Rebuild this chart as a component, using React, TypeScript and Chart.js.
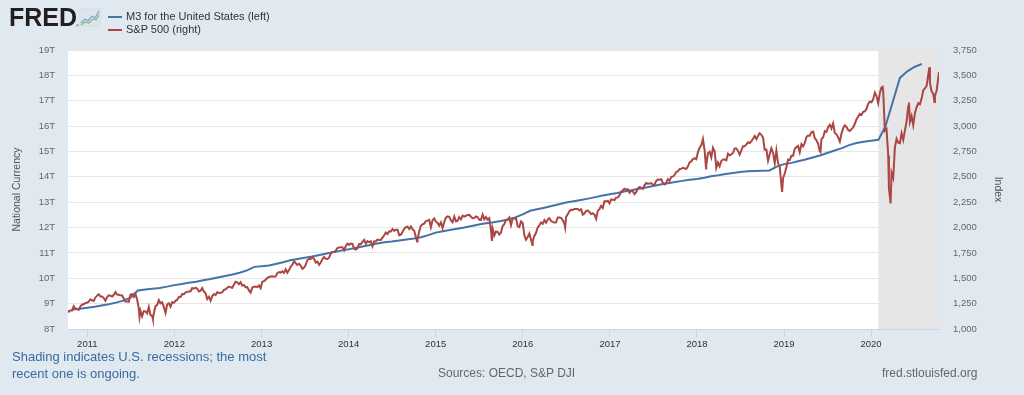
import React, { useEffect, useRef } from 'react';
import { Chart, registerables } from 'chart.js';

Chart.register(...registerables);

const FONT = "'Liberation Sans', Arial, Helvetica, sans-serif";

// M3 for the United States, trillions, monthly from Nov 2010
const m3StartYear = 2010;
const m3StartMonth = 10; // 0-based: November
const m3Values = [
  8.77, 8.80,
  8.84, 8.88, 8.93, 8.98, 9.04, 9.12, 9.24, 9.52, 9.56, 9.59, 9.62, 9.67,
  9.73, 9.77, 9.82, 9.86, 9.92, 9.97, 10.03, 10.09, 10.15, 10.22, 10.31, 10.45,
  10.47, 10.50, 10.56, 10.63, 10.71, 10.76, 10.81, 10.86, 10.92, 10.98, 11.04, 11.09,
  11.14, 11.20, 11.25, 11.31, 11.37, 11.42, 11.45, 11.49, 11.53, 11.57, 11.62, 11.70,
  11.80, 11.85, 11.90, 11.95, 12.00, 12.06, 12.12, 12.17, 12.21, 12.26, 12.32, 12.40,
  12.52, 12.66, 12.72, 12.78, 12.85, 12.92, 12.99, 13.04, 13.09, 13.14, 13.20, 13.26,
  13.31, 13.36, 13.42, 13.47, 13.53, 13.58, 13.64, 13.70, 13.75, 13.80, 13.84, 13.88,
  13.91, 13.96, 14.02, 14.06, 14.11, 14.15, 14.19, 14.22, 14.23, 14.24, 14.25, 14.40,
  14.50, 14.55, 14.61, 14.68, 14.76, 14.84, 14.94, 15.04, 15.13, 15.25, 15.33, 15.38,
  15.42, 15.46, 15.98, 16.95, 17.90, 18.16, 18.33, 18.45,
];

// S&P 500 weekly closes (Fridays), one array per year with its first Friday
const spx2010 = [1176, 1183, 1183, 1225, 1199, 1199, 1189, 1224, 1240, 1243, 1257, 1258];
const spx2011 = [
  1271, 1293, 1283, 1276, 1311, 1329, 1343, 1320, 1321, 1304,
  1279, 1314, 1332, 1328, 1320, 1337, 1364, 1340, 1338, 1333,
  1331, 1300, 1271, 1271, 1268, 1339, 1344, 1316, 1345, 1292,
  1199, 1179, 1124, 1177, 1174, 1154, 1216, 1136, 1131, 1155,
  1225, 1238, 1285, 1253, 1264, 1216, 1159, 1244, 1255, 1220,
  1265, 1258,
];
const spx2012 = [
  1278, 1289, 1315, 1316, 1345, 1343, 1361, 1366, 1370, 1371,
  1404, 1397, 1408, 1398, 1370, 1378, 1403, 1369, 1353, 1295,
  1318, 1278, 1325, 1343, 1335, 1362, 1355, 1357, 1363, 1386,
  1391, 1406, 1418, 1411, 1406, 1438, 1466, 1460, 1441, 1461,
  1429, 1433, 1411, 1414, 1380, 1359, 1409, 1416, 1418, 1413,
  1430, 1402,
];
const spx2013 = [
  1466, 1472, 1486, 1503, 1513, 1518, 1520, 1515, 1518, 1551,
  1561, 1556, 1569, 1553, 1588, 1555, 1582, 1614, 1633, 1667,
  1650, 1631, 1643, 1626, 1592, 1606, 1632, 1680, 1692, 1691,
  1709, 1691, 1655, 1664, 1633, 1655, 1688, 1710, 1691, 1690,
  1703, 1744, 1759, 1762, 1771, 1798, 1804, 1806, 1805, 1775,
  1818, 1841,
];
const spx2014 = [
  1831, 1842, 1839, 1790, 1783, 1797, 1838, 1836, 1859, 1878,
  1841, 1866, 1857, 1865, 1815, 1864, 1863, 1881, 1878, 1878,
  1900, 1924, 1950, 1936, 1963, 1961, 1985, 1968, 1978, 1978,
  1925, 1931, 1955, 1988, 2003, 2008, 1985, 2011, 1982, 1968,
  1906, 1887, 1964, 2018, 2032, 2039, 2064, 2068, 2075, 2002,
  2071, 2089,
];
const spx2015 = [
  2058, 2045, 2019, 2051, 1995, 2055, 2097, 2110, 2105, 2071,
  2053, 2108, 2061, 2067, 2102, 2081, 2117, 2108, 2116, 2123,
  2126, 2107, 2092, 2094, 2110, 2102, 2077, 2076, 2127, 2080,
  2104, 2078, 2092, 1971, 1989, 1921, 1961, 1958, 1931, 1951,
  2015, 2033, 2075, 2079, 2099, 2023, 2089, 2090, 2092, 2012,
  2005, 2061, 2044,
];
const spx2016 = [
  1922, 1880, 1907, 1940, 1880, 1865, 1917, 1948, 2000, 2022,
  2050, 2036, 2073, 2048, 2081, 2092, 2065, 2057, 2047, 2052,
  2099, 2099, 2096, 2071, 2037, 2103, 2130, 2162, 2175, 2174,
  2183, 2184, 2184, 2169, 2180, 2128, 2139, 2164, 2168, 2153,
  2133, 2141, 2126, 2085, 2164, 2182, 2213, 2192, 2260, 2258,
  2264, 2239,
];
const spx2017 = [
  2277, 2275, 2271, 2295, 2297, 2316, 2351, 2367, 2383, 2373,
  2378, 2344, 2363, 2355, 2329, 2349, 2384, 2399, 2391, 2382,
  2416, 2439, 2432, 2433, 2438, 2423, 2425, 2459, 2473, 2472,
  2477, 2441, 2426, 2443, 2477, 2461, 2500, 2502, 2519, 2549,
  2553, 2575, 2581, 2588, 2582, 2579, 2603, 2642, 2652, 2676,
  2683, 2674,
];
const spx2018 = [
  2743, 2786, 2810, 2873, 2762, 2620, 2732, 2747, 2691, 2786,
  2752, 2588, 2641, 2604, 2656, 2670, 2670, 2663, 2728, 2713,
  2721, 2735, 2779, 2780, 2755, 2718, 2760, 2801, 2802, 2819,
  2840, 2833, 2850, 2875, 2902, 2872, 2905, 2930, 2914, 2886,
  2767, 2768, 2659, 2723, 2781, 2736, 2633, 2760, 2633, 2600,
  2417, 2486,
];
const spx2019 = [
  2532, 2596, 2671, 2665, 2707, 2708, 2776, 2793, 2804, 2743,
  2822, 2800, 2834, 2893, 2907, 2905, 2940, 2946, 2881, 2860,
  2826, 2752, 2873, 2887, 2950, 2942, 2990, 3014, 2977, 3026,
  2932, 2919, 2889, 2847, 2926, 2979, 3007, 2992, 2962, 2952,
  2970, 2986, 3023, 3067, 3093, 3120, 3110, 3141, 3146, 3169,
  3221, 3240,
];
const spx2020 = [
  3235, 3265, 3330, 3295, 3226, 3328, 3380, 3338, 2954, 2972,
  2711, 2305, 2541, 2489, 2790, 2875, 2837, 2831, 2930, 2864,
  2955, 3044, 3194, 3041, 3098, 3009, 3130, 3185, 3225, 3216,
  3271, 3351, 3373, 3397, 3508, 3427, 3341, 3319, 3298, 3348,
  3477,
];
const spxFirstFridays = [
  '2010-10-15', '2011-01-07', '2012-01-06', '2013-01-04', '2014-01-03', '2015-01-02',
  '2016-01-08', '2017-01-06', '2018-01-05', '2019-01-04', '2020-01-03',
];
const spxYears = [spx2010, spx2011, spx2012, spx2013, spx2014, spx2015, spx2016, spx2017, spx2018, spx2019, spx2020];

// Extra daily closes at turning points
const spxExtraDates = [
  '2010-10-12', '2011-08-08', '2011-10-03', '2014-10-15', '2015-08-24', '2015-08-25',
  '2016-02-11', '2016-06-27', '2018-02-08', '2018-12-24', '2019-06-03', '2020-02-19',
  '2020-03-16', '2020-03-23', '2020-06-08', '2020-09-02', '2020-09-23', '2020-10-12',
];
const spxExtraValues = [
  1169, 1119, 1099, 1862, 1893, 1868,
  1829, 2001, 2581, 2351, 2744, 3386,
  2386, 2237, 3232, 3580, 3237, 3534,
];

const xMinDate = '2010-10-12';
const xMaxDate = '2020-10-12';
const xTickYears = [2011, 2012, 2013, 2014, 2015, 2016, 2017, 2018, 2019, 2020];
const recessionStart = '2020-02-01';
const recessionEnd = '2020-10-12';

const DAY = 86400000;
const toMs = (d: string) => Date.parse(d + 'T00:00:00Z');

export default function App() {
  const ref = useRef<HTMLCanvasElement>(null);

  useEffect(() => {
    const canvas = ref.current;
    if (!canvas) return;

    const m3Data = m3Values.map((v, i) => ({ x: Date.UTC(m3StartYear, m3StartMonth + i, 1), y: v }));
    const spxData: { x: number; y: number }[] = [];
    spxYears.forEach((vals, k) => {
      const t0 = toMs(spxFirstFridays[k]);
      vals.forEach((v, i) => spxData.push({ x: t0 + i * 7 * DAY, y: v }));
    });
    spxExtraDates.forEach((d, i) => spxData.push({ x: toMs(d), y: spxExtraValues[i] }));
    spxData.sort((a, b) => a.x - b.x);

    const plotBg = {
      id: 'plotBg',
      beforeDraw(chart: any) {
        const { ctx, chartArea } = chart;
        ctx.save();
        ctx.fillStyle = '#ffffff';
        ctx.fillRect(chartArea.left, chartArea.top, chartArea.right - chartArea.left, chartArea.bottom - chartArea.top);
        ctx.restore();
      },
      beforeDatasetsDraw(chart: any) {
        const { ctx, chartArea, scales } = chart;
        const x0 = Math.max(chartArea.left, scales.x.getPixelForValue(toMs(recessionStart)));
        const x1 = Math.min(chartArea.right, scales.x.getPixelForValue(toMs(recessionEnd)));
        ctx.save();
        ctx.fillStyle = '#e6e6e6';
        ctx.fillRect(x0, chartArea.top, x1 - x0, chartArea.bottom - chartArea.top);
        ctx.restore();
      },
    };

    const chart = new Chart(canvas, {
      type: 'line',
      data: {
        datasets: [
          {
            label: 'M3 for the United States (left)',
            data: m3Data,
            borderColor: '#4572a7',
            backgroundColor: '#4572a7',
            borderWidth: 2,
            pointRadius: 0,
            tension: 0,
            yAxisID: 'y',
            order: 1,
          },
          {
            label: 'S&P 500 (right)',
            data: spxData,
            borderColor: '#aa4643',
            backgroundColor: '#aa4643',
            borderWidth: 2,
            pointRadius: 0,
            tension: 0,
            yAxisID: 'y1',
            order: 0,
          },
        ],
      },
      options: {
        responsive: false,
        animation: false,
        devicePixelRatio: 1,
        layout: { padding: { top: 50, left: 0, right: 0, bottom: 0 } },
        plugins: { legend: { display: false }, tooltip: { enabled: false } },
        scales: {
          x: {
            type: 'linear',
            min: toMs(xMinDate),
            max: toMs(xMaxDate),
            afterBuildTicks: (scale: any) => {
              scale.ticks = xTickYears.map((y) => ({ value: Date.UTC(y, 0, 1) }));
            },
            afterFit: (scale: any) => {
              scale.height = 66;
            },
            grid: { drawOnChartArea: false, drawTicks: true, tickLength: 8, color: '#ccd6eb' },
            border: { display: true, color: '#ccd6eb' },
            ticks: {
              autoSkip: false,
              maxRotation: 0,
              padding: 2,
              color: '#333333',
              font: { family: FONT, size: 9.5 },
              callback: (v: any) => String(new Date(Number(v)).getUTCFullYear()),
            },
          },
          y: {
            type: 'linear',
            position: 'left',
            min: 8,
            max: 19,
            afterFit: (scale: any) => {
              scale.width = 68;
            },
            grid: { color: '#e6e6e6', drawTicks: false },
            border: { display: false },
            title: {
              display: true,
              text: 'National Currency',
              color: '#555555',
              font: { family: FONT, size: 10.5 },
              padding: { top: 11, bottom: 0 },
            },
            ticks: {
              stepSize: 1,
              padding: 13,
              color: '#666666',
              font: { family: FONT, size: 9.5 },
              callback: (v: any) => v + 'T',
            },
          },
          y1: {
            type: 'linear',
            position: 'right',
            min: 1000,
            max: 3750,
            afterFit: (scale: any) => {
              scale.width = 85;
            },
            grid: { display: false, drawTicks: false },
            border: { display: false },
            title: {
              display: true,
              text: 'Index',
              color: '#555555',
              font: { family: FONT, size: 10.5 },
              padding: { top: 20, bottom: 0 },
            },
            ticks: {
              stepSize: 250,
              padding: 14,
              color: '#666666',
              font: { family: FONT, size: 9.5 },
              callback: (v: any) => Number(v).toLocaleString('en-US'),
            },
          },
        },
      },
      plugins: [plotBg],
    } as any);

    return () => chart.destroy();
  }, []);

  const legendText: React.CSSProperties = {
    position: 'absolute',
    left: 126,
    fontFamily: FONT,
    fontSize: 11,
    color: '#333333',
    lineHeight: '13px',
    whiteSpace: 'nowrap',
  };
  const footText: React.CSSProperties = {
    position: 'absolute',
    fontFamily: FONT,
    fontSize: 12,
    lineHeight: '17px',
    whiteSpace: 'nowrap',
  };

  return (
    <div
      style={{
        position: 'absolute',
        left: 0,
        top: 0,
        width: 1024,
        height: 395,
        background: '#e1e9f0',
        overflow: 'hidden',
      }}
    >
      <canvas ref={ref} width={1024} height={395} style={{ position: 'absolute', left: 0, top: 0, width: 1024, height: 395 }} />
      {/* FRED logo */}
      <div
        style={{
          position: 'absolute',
          left: 9,
          top: 3,
          fontFamily: FONT,
          fontWeight: 900,
          fontSize: 25,
          letterSpacing: 0,
          color: '#231f20',
          lineHeight: '29px',
        }}
      >
        FRED
      </div>
      <svg style={{ position: 'absolute', left: 76, top: 8 }} width={26} height={20} viewBox="0 0 26 20">
        <text x={0} y={19} fontSize={4} fill="#231f20" fontFamily={FONT}>®</text>
        <rect x={4} y={1} width={20} height={17} fill="#dce5ee" stroke="#c9d6e2" strokeWidth={0.6} />
        <polyline points="5,15 9,11 12,13 16,8 19,10 23,3" fill="none" stroke="#7aa6d0" strokeWidth={1.3} />
        <polyline points="5,17 9,14 13,15 17,11 20,12 23,7" fill="none" stroke="#8cc07a" strokeWidth={1.3} />
      </svg>
      {/* Legend */}
      <div style={{ position: 'absolute', left: 108, top: 16, width: 14, height: 2, background: '#4572a7' }} />
      <div style={{ ...legendText, top: 10 }}>M3 for the United States (left)</div>
      <div style={{ position: 'absolute', left: 108, top: 29, width: 14, height: 2, background: '#aa4643' }} />
      <div style={{ ...legendText, top: 23 }}>S&amp;P 500 (right)</div>
      {/* Footer */}
      <div style={{ ...footText, fontSize: 13, left: 12, top: 348, color: '#3b6aa0' }}>
        Shading indicates U.S. recessions; the most
        <br />
        recent one is ongoing.
      </div>
      <div style={{ ...footText, left: 438, top: 365, color: '#666666' }}>Sources: OECD, S&amp;P DJI</div>
      <div style={{ ...footText, left: 882, top: 365, color: '#666666' }}>fred.stlouisfed.org</div>
    </div>
  );
}
